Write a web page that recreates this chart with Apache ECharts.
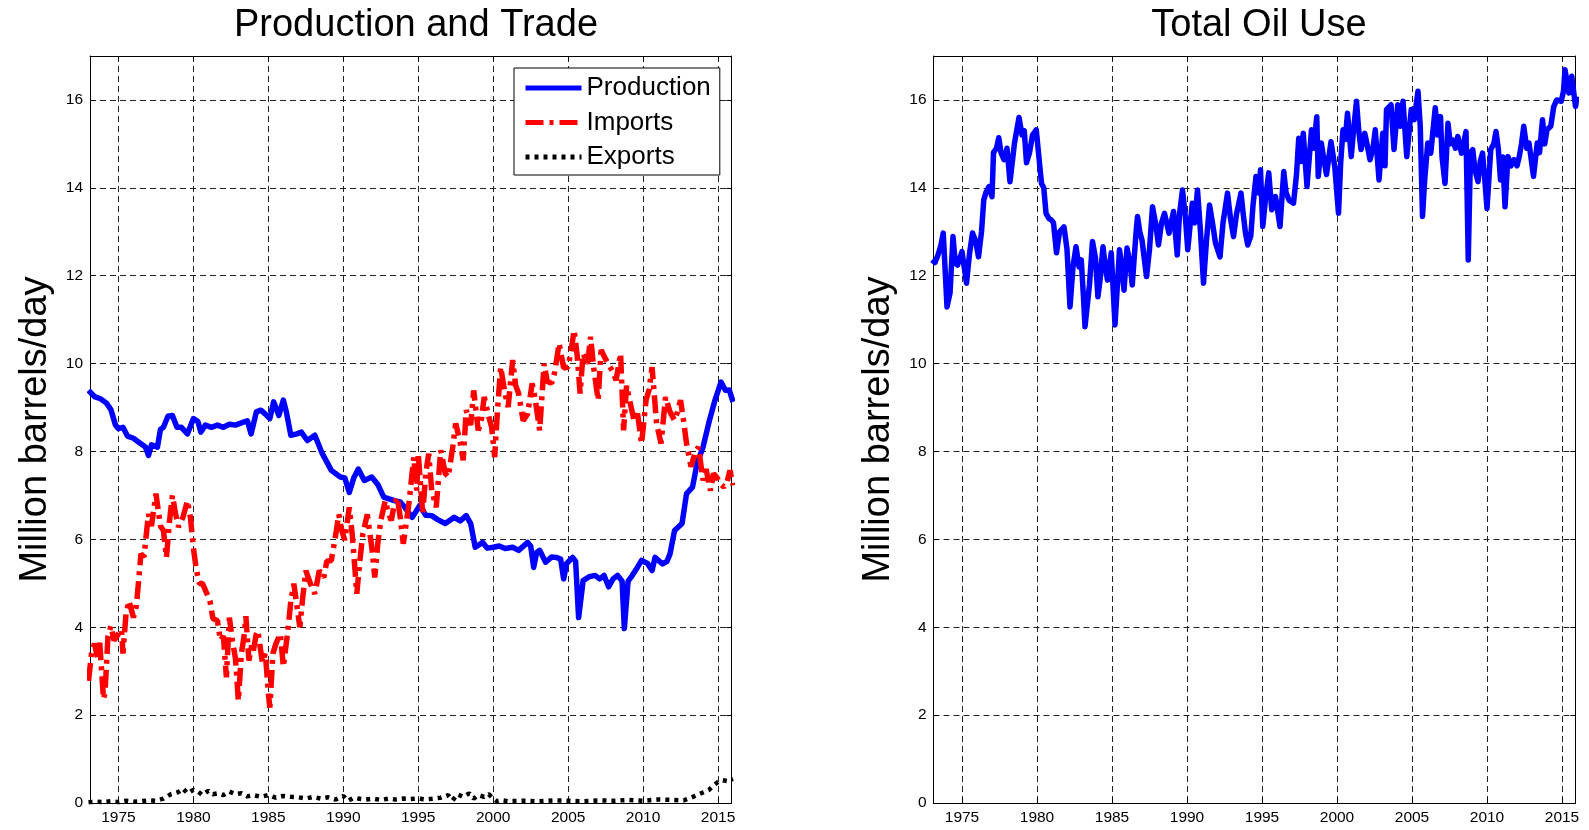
<!DOCTYPE html>
<html>
<head>
<meta charset="utf-8">
<script src="https://cdn.jsdelivr.net/npm/echarts@6/dist/echarts.min.js"></script>
<style>
html, body { margin: 0; padding: 0; background: #fff; }
#chart { width: 1589px; height: 830px; }
</style>
</head>
<body>
<div id="chart"></div>
<script>
// ---- Data (year, million barrels/day) ----
const productionData = [
[1973.0,9.39],[1973.4,9.25],[1973.8,9.2],[1974.2,9.1],[1974.5,8.95],[1974.8,8.6],[1975.0,8.52],[1975.3,8.55],[1975.6,8.35],[1976.0,8.3],
[1976.4,8.2],[1976.8,8.1],[1977.0,7.91],[1977.2,8.15],[1977.6,8.1],[1977.8,8.5],[1978.0,8.55],[1978.3,8.8],[1978.6,8.82],[1978.9,8.55],
[1979.2,8.55],[1979.6,8.4],[1980.0,8.75],[1980.3,8.68],[1980.5,8.44],[1980.8,8.6],[1981.2,8.55],[1981.6,8.6],[1982.0,8.55],[1982.4,8.62],
[1982.8,8.6],[1983.2,8.65],[1983.6,8.7],[1983.85,8.4],[1984.2,8.9],[1984.5,8.94],[1984.8,8.85],[1985.1,8.75],[1985.35,9.13],[1985.7,8.82],
[1986.0,9.17],[1986.2,8.9],[1986.5,8.37],[1986.9,8.4],[1987.2,8.44],[1987.6,8.25],[1988.1,8.37],[1988.6,7.95],[1989.2,7.57],[1989.8,7.42],
[1990.1,7.4],[1990.4,7.07],[1990.7,7.4],[1991.0,7.6],[1991.4,7.34],[1991.9,7.42],[1992.3,7.25],[1992.7,6.96],[1993.4,6.88],[1993.8,6.85],
[1994.1,6.73],[1994.6,6.5],[1995.1,6.77],[1995.5,6.55],[1995.9,6.54],[1996.3,6.45],[1996.8,6.36],[1997.4,6.5],[1997.8,6.42],[1998.2,6.54],
[1998.5,6.36],[1998.8,5.82],[1999.3,5.93],[1999.6,5.8],[2000.0,5.82],[2000.4,5.85],[2000.8,5.79],[2001.3,5.82],[2001.7,5.75],[2002.3,5.93],
[2002.5,5.85],[2002.7,5.36],[2002.9,5.7],[2003.1,5.75],[2003.5,5.48],[2003.9,5.6],[2004.2,5.59],[2004.5,5.55],[2004.7,5.1],[2004.9,5.45],
[2005.3,5.59],[2005.5,5.5],[2005.7,4.22],[2006.0,5.06],[2006.4,5.15],[2006.8,5.18],[2007.1,5.1],[2007.4,5.18],[2007.7,4.92],[2008.0,5.1],
[2008.3,5.18],[2008.6,5.05],[2008.75,3.97],[2009.0,5.05],[2009.2,5.14],[2009.6,5.35],[2009.9,5.52],[2010.3,5.45],[2010.6,5.29],[2010.8,5.59],
[2011.3,5.44],[2011.6,5.5],[2011.8,5.67],[2012.1,6.2],[2012.6,6.36],[2012.9,7.04],[2013.3,7.19],[2013.6,7.72],[2014.0,8.1],[2014.4,8.67],
[2014.8,9.17],[2015.2,9.58],[2015.5,9.39],[2015.75,9.4],[2016.0,9.13]
];

const importsData = [
[1973.0,2.78],[1973.2,3.4],[1973.4,3.63],[1973.6,3.3],[1973.75,3.65],[1974.0,2.37],[1974.1,2.5],[1974.3,3.8],[1974.5,4.03],[1974.7,3.7],
[1975.0,3.85],[1975.2,3.95],[1975.3,3.4],[1975.5,4.3],[1975.7,4.6],[1976.0,4.22],[1976.2,4.5],[1976.5,5.67],[1976.7,5.6],[1977.0,6.58],
[1977.2,6.3],[1977.5,7.04],[1977.8,6.3],[1978.0,6.2],[1978.2,5.59],[1978.4,6.4],[1978.6,7.0],[1978.8,6.6],[1979.0,6.28],[1979.3,6.5],
[1979.6,6.88],[1979.8,6.5],[1980.0,5.8],[1980.2,5.3],[1980.4,4.99],[1980.6,5.0],[1980.9,4.76],[1981.1,4.6],[1981.3,4.2],[1981.6,4.15],
[1981.8,3.7],[1982.0,3.8],[1982.2,2.86],[1982.4,4.22],[1982.6,3.7],[1982.8,3.3],[1983.0,2.33],[1983.2,3.4],[1983.4,3.85],[1983.5,4.25],
[1983.7,3.24],[1983.9,3.6],[1984.0,3.47],[1984.2,3.85],[1984.3,3.92],[1984.6,3.2],[1984.8,3.4],[1985.0,2.5],[1985.1,2.17],[1985.3,3.4],
[1985.5,3.62],[1985.8,3.85],[1986.0,3.1],[1986.1,3.08],[1986.3,3.92],[1986.5,4.6],[1986.7,4.99],[1986.9,4.5],[1987.1,4.0],[1987.3,4.7],
[1987.5,5.29],[1987.8,5.0],[1988.1,4.76],[1988.4,5.29],[1988.7,5.13],[1988.9,5.5],[1989.2,5.52],[1989.5,6.12],[1989.7,6.57],[1989.9,6.2],
[1990.1,5.98],[1990.4,6.73],[1990.6,6.1],[1990.7,5.67],[1990.9,4.76],[1991.1,5.5],[1991.3,6.12],[1991.6,6.57],[1991.9,5.82],[1992.1,5.13],
[1992.3,5.9],[1992.5,6.43],[1992.8,6.88],[1993.0,6.6],[1993.2,6.43],[1993.4,6.8],[1993.6,6.96],[1993.8,6.5],[1994.0,5.9],[1994.1,6.12],
[1994.4,6.88],[1994.7,7.87],[1994.9,7.11],[1995.0,7.95],[1995.3,6.58],[1995.5,7.5],[1995.7,7.95],[1995.9,7.11],[1996.2,6.73],[1996.5,8.03],
[1996.8,7.5],[1997.0,7.42],[1997.3,8.1],[1997.5,8.64],[1997.8,8.2],[1998.0,7.8],[1998.2,8.94],[1998.5,8.6],[1998.7,9.39],[1999.0,8.48],
[1999.2,8.7],[1999.4,9.24],[1999.7,8.8],[1999.9,8.55],[2000.1,7.87],[2000.3,9.0],[2000.5,9.92],[2000.8,9.3],[2001.0,9.01],[2001.3,10.08],
[2001.5,9.5],[2001.7,9.32],[2002.0,8.7],[2002.3,8.86],[2002.6,9.55],[2002.8,9.2],[2003.1,8.48],[2003.4,10.0],[2003.6,9.6],[2003.9,9.55],
[2004.1,9.8],[2004.4,10.46],[2004.7,9.9],[2005.0,9.92],[2005.2,10.3],[2005.4,10.76],[2005.6,10.2],[2005.8,9.32],[2006.0,10.23],[2006.3,10.0],
[2006.5,10.61],[2006.7,9.92],[2007.0,9.17],[2007.2,10.31],[2007.5,10.1],[2007.8,9.92],[2008.0,9.8],[2008.2,9.62],[2008.5,10.23],[2008.7,8.48],
[2008.9,9.5],[2009.1,9.17],[2009.4,8.7],[2009.6,8.94],[2009.9,8.18],[2010.2,9.17],[2010.4,9.4],[2010.6,9.92],[2010.9,8.64],[2011.2,8.18],
[2011.5,9.24],[2011.8,8.9],[2012.1,8.71],[2012.3,8.9],[2012.5,9.17],[2012.7,8.7],[2012.9,8.18],[2013.2,7.65],[2013.5,8.0],[2013.7,8.1],
[2014.0,7.34],[2014.2,7.6],[2014.5,7.11],[2014.7,7.5],[2014.9,7.42],[2015.2,7.25],[2015.4,7.19],[2015.6,7.3],[2015.8,7.57],[2016.0,7.23]
];

const exportsData = [
[1973.0,0.02],[1973.5,0.03],[1974.0,0.02],[1974.5,0.04],[1975.0,0.02],[1975.5,0.05],[1976.0,0.03],[1976.5,0.04],[1977.0,0.06],[1977.5,0.05],
[1978.0,0.1],[1978.5,0.2],[1979.0,0.25],[1979.3,0.33],[1979.6,0.22],[1980.0,0.3],[1980.3,0.26],[1980.6,0.18],[1981.0,0.28],[1981.3,0.2],
[1981.6,0.22],[1982.0,0.18],[1982.4,0.26],[1982.8,0.2],[1983.2,0.22],[1983.6,0.15],[1984.0,0.18],[1984.5,0.14],[1985.0,0.18],[1985.5,0.12],
[1986.0,0.16],[1986.5,0.14],[1987.0,0.13],[1987.5,0.1],[1988.0,0.14],[1988.5,0.1],[1989.0,0.13],[1989.5,0.08],[1990.0,0.16],[1990.3,0.05],
[1990.7,0.12],[1991.0,0.1],[1991.5,0.08],[1992.0,0.1],[1992.5,0.07],[1993.0,0.1],[1993.5,0.08],[1994.0,0.1],[1994.5,0.09],[1995.0,0.1],
[1995.5,0.08],[1996.0,0.1],[1996.5,0.12],[1997.0,0.18],[1997.3,0.06],[1997.6,0.2],[1998.0,0.14],[1998.4,0.22],[1998.7,0.1],[1999.0,0.18],
[1999.4,0.14],[1999.7,0.2],[2000.0,0.1],[2000.3,0.03],[2000.6,0.06],[2001.0,0.04],[2002.0,0.05],[2003.0,0.04],[2004.0,0.06],[2005.0,0.05],
[2006.0,0.04],[2007.0,0.06],[2008.0,0.05],[2009.0,0.07],[2010.0,0.05],[2011.0,0.08],[2012.0,0.07],[2012.7,0.06],[2013.2,0.12],[2013.6,0.18],
[2014.0,0.24],[2014.4,0.3],[2014.7,0.4],[2015.0,0.48],[2015.3,0.52],[2015.6,0.5],[2016.0,0.55]
];

const totalUseData = [
[1973.0,12.36],[1973.2,12.3],[1973.4,12.47],[1973.6,12.7],[1973.75,12.97],[1974.0,11.29],[1974.2,11.6],[1974.4,12.89],[1974.55,12.3],[1974.7,12.24],
[1975.0,12.55],[1975.3,11.83],[1975.5,12.5],[1975.7,12.97],[1975.9,12.8],[1976.1,12.43],[1976.3,13.0],[1976.45,13.72],[1976.6,13.9],[1976.8,14.03],
[1977.0,13.8],[1977.1,14.8],[1977.3,14.9],[1977.45,15.14],[1977.6,14.8],[1977.8,14.64],[1978.0,14.9],[1978.2,14.14],[1978.5,15.02],[1978.8,15.6],
[1979.0,15.2],[1979.15,15.3],[1979.3,14.57],[1979.5,14.8],[1979.7,15.2],[1979.95,15.32],[1980.1,14.8],[1980.3,14.1],[1980.45,14.0],[1980.6,13.42],
[1980.8,13.3],[1980.95,13.27],[1981.1,13.2],[1981.3,12.52],[1981.5,13.0],[1981.8,13.11],[1982.0,12.6],[1982.2,11.29],[1982.4,12.2],[1982.6,12.66],
[1982.8,12.2],[1982.95,12.36],[1983.1,11.5],[1983.2,10.84],[1983.5,11.8],[1983.7,12.78],[1983.9,12.4],[1984.06,11.52],[1984.2,11.9],[1984.4,12.66],
[1984.55,12.2],[1984.7,11.9],[1984.95,12.52],[1985.2,10.88],[1985.5,12.59],[1985.65,12.2],[1985.8,11.67],[1986.0,12.63],[1986.2,12.3],[1986.35,11.79],
[1986.6,12.97],[1986.7,13.35],[1986.85,13.0],[1987.0,12.81],[1987.3,11.98],[1987.5,12.6],[1987.7,13.57],[1987.9,13.2],[1988.1,12.7],[1988.3,13.2],
[1988.5,13.42],[1988.8,12.97],[1989.1,13.46],[1989.35,12.47],[1989.5,13.4],[1989.7,13.95],[1989.9,13.3],[1990.05,12.59],[1990.35,13.65],[1990.5,13.2],
[1990.7,13.95],[1990.9,13.0],[1991.1,11.83],[1991.3,12.8],[1991.5,13.61],[1991.7,13.2],[1991.9,12.74],[1992.2,12.43],[1992.4,13.2],[1992.7,13.88],
[1992.9,13.3],[1993.1,12.89],[1993.3,13.4],[1993.6,13.88],[1993.75,13.4],[1993.9,12.97],[1994.05,12.7],[1994.25,12.9],[1994.4,13.6],[1994.6,14.26],
[1994.8,13.88],[1994.9,14.41],[1995.05,13.12],[1995.25,13.8],[1995.45,14.34],[1995.65,13.5],[1995.9,13.8],[1996.2,13.12],[1996.45,14.37],[1996.6,13.9],
[1996.8,13.72],[1997.1,13.65],[1997.3,14.3],[1997.45,15.13],[1997.6,14.6],[1997.75,15.24],[1998.0,14.03],[1998.3,15.32],[1998.45,14.9],[1998.65,15.62],
[1998.75,14.26],[1998.95,15.02],[1999.15,14.6],[1999.3,14.3],[1999.6,15.05],[1999.85,14.48],[2000.1,13.42],[2000.25,14.6],[2000.4,15.32],[2000.55,15.1],
[2000.7,15.7],[2000.95,14.71],[2001.1,15.3],[2001.3,15.97],[2001.45,15.3],[2001.6,14.87],[2001.85,15.24],[2002.0,15.0],[2002.2,14.64],[2002.4,14.9],
[2002.55,15.32],[2002.8,14.18],[2003.05,15.24],[2003.2,14.5],[2003.3,15.78],[2003.6,15.89],[2003.8,14.87],[2004.05,15.89],[2004.2,15.4],[2004.4,15.97],
[2004.65,14.71],[2004.95,15.78],[2005.15,15.55],[2005.4,16.2],[2005.55,15.4],[2005.7,13.35],[2005.85,14.2],[2006.05,15.02],[2006.25,14.79],[2006.55,15.82],
[2006.7,15.2],[2006.9,15.62],[2007.0,14.71],[2007.2,14.1],[2007.4,15.47],[2007.55,15.0],[2007.7,15.09],[2007.9,14.9],[2008.05,15.17],[2008.3,14.79],
[2008.6,15.28],[2008.75,12.36],[2008.9,14.8],[2009.05,14.87],[2009.2,14.4],[2009.4,14.14],[2009.55,14.6],[2009.7,14.79],[2009.85,14.2],[2010.0,13.53],
[2010.25,14.87],[2010.45,15.0],[2010.6,15.28],[2010.75,14.9],[2010.9,14.18],[2011.05,14.7],[2011.2,13.57],[2011.4,14.71],[2011.6,14.5],[2011.8,14.64],
[2012.0,14.5],[2012.15,14.71],[2012.3,15.0],[2012.45,15.4],[2012.65,14.9],[2012.8,15.02],[2013.1,14.26],[2013.35,15.02],[2013.5,14.8],[2013.7,15.55],
[2013.85,15.0],[2014.0,15.32],[2014.25,15.4],[2014.45,15.85],[2014.65,16.0],[2014.95,15.97],[2015.1,16.2],[2015.2,16.69],[2015.45,16.16],[2015.65,16.54],
[2015.9,15.85],[2016.0,16.08]
];

const seriesNames = ['Production', 'Imports', 'Exports'];
const titles = ['Production and Trade', 'Total Oil Use'];
const yAxisTitle = 'Million barrels/day';
const xRange = [1973.1, 2015.9];
const yRange = [0, 17];

// ---- Styling ----
const FONT = "'Liberation Sans', Arial, Helvetica, sans-serif";
const grids = [
  { left: 90, top: 56, width: 641.5, height: 747 },
  { left: 933.5, top: 56, width: 642, height: 747 }
];

function xAxes(gi) {
  const common = { gridIndex: gi, type: 'value', min: xRange[0], max: xRange[1], splitNumber: 8,
    axisLine: { show: true, onZero: false, lineStyle: { color: '#000', width: 1 } },
    axisTick: { show: true, inside: true, length: 5, lineStyle: { color: '#000' } } };
  return [
    Object.assign({}, common, { position: 'bottom',
      axisLabel: { show: true, color: '#000', fontSize: 15.5, fontFamily: FONT, margin: 7, showMinLabel: false, showMaxLabel: false,
        formatter: function (v) { return String(Math.round(v)); } },
      splitLine: { show: true, lineStyle: { color: '#222', width: 1, type: [6, 4] } } }),
    Object.assign({}, common, { position: 'top', axisLabel: { show: false }, splitLine: { show: false } })
  ];
}
function yAxes(gi, nameGap) {
  const common = { gridIndex: gi, type: 'value', min: yRange[0], max: yRange[1], interval: 2,
    axisLine: { show: true, onZero: false, lineStyle: { color: '#000', width: 1 } },
    axisTick: { show: true, inside: true, length: 5, lineStyle: { color: '#000' } } };
  return [
    Object.assign({}, common, { position: 'left', name: yAxisTitle, nameLocation: 'middle', nameGap: nameGap,
      nameTextStyle: { fontSize: 38, color: '#000', fontFamily: FONT },
      axisLabel: { show: true, color: '#000', fontSize: 15.5, fontFamily: FONT, margin: 7, showMaxLabel: false },
      splitLine: { show: true, lineStyle: { color: '#222', width: 1, type: [6, 4] } } }),
    Object.assign({}, common, { position: 'right', axisLabel: { show: false }, splitLine: { show: false } })
  ];
}

const chart = echarts.init(document.getElementById('chart'), null, { renderer: 'canvas' });
const option = {
  animation: false,
  backgroundColor: '#fff',
  title: [
    { text: titles[0], left: 411, top: 2, textAlign: 'center', textStyle: { fontSize: 38, fontWeight: 'normal', color: '#000', fontFamily: FONT } },
    { text: titles[1], left: 1254, top: 2, textAlign: 'center', textStyle: { fontSize: 38, fontWeight: 'normal', color: '#000', fontFamily: FONT } }
  ],
  legend: {
    data: seriesNames, orient: 'vertical', left: 514, top: 68,
    itemWidth: 56, itemHeight: 26, itemGap: 8.5,
    padding: [7, 9, 5, 9],
    borderColor: '#000', borderWidth: 1, backgroundColor: '#fff',
    selectedMode: false,
    textStyle: { fontSize: 26, color: '#000', fontFamily: FONT },
    lineStyle: { width: 5 },
    itemStyle: { opacity: 0, color: 'rgba(0,0,0,0)', borderWidth: 0 }
  },
  grid: grids,
  xAxis: [].concat(xAxes(0), xAxes(1)),
  yAxis: [].concat(yAxes(0, 35), yAxes(1, 36)),
  series: [
    { name: seriesNames[0], type: 'line', xAxisIndex: 0, yAxisIndex: 0, data: productionData, symbol: 'none', clip: true,
      lineStyle: { color: '#0000ff', width: 5.5, join: 'round' }, itemStyle: { color: '#0000ff' } },
    { name: seriesNames[1], type: 'line', xAxisIndex: 0, yAxisIndex: 0, data: importsData, symbol: 'none', clip: true,
      lineStyle: { color: '#ff0000', width: 5.5, type: [18, 6, 4, 6], cap: 'butt' }, itemStyle: { color: '#ff0000' } },
    { name: seriesNames[2], type: 'line', xAxisIndex: 0, yAxisIndex: 0, data: exportsData, symbol: 'none', clip: true,
      lineStyle: { color: '#000', width: 4.5, type: [4, 5], cap: 'butt' }, itemStyle: { color: '#000' } },
    { name: 'Total Oil Use', type: 'line', xAxisIndex: 2, yAxisIndex: 2, data: totalUseData, symbol: 'none', clip: true,
      lineStyle: { color: '#0000ff', width: 5.5, join: 'round' }, itemStyle: { color: '#0000ff' } }
  ]
};
chart.setOption(option);
</script>
</body>
</html>
